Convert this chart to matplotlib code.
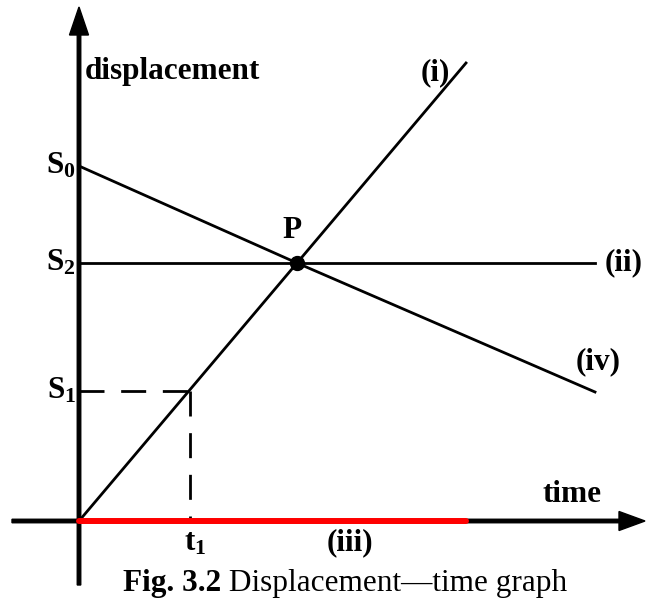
import matplotlib.pyplot as plt

plt.rcParams['font.family'] = ['Liberation Serif', 'DejaVu Serif']
plt.rcParams['mathtext.fontset'] = 'custom'
plt.rcParams['mathtext.rm'] = 'Liberation Serif'
plt.rcParams['mathtext.bf'] = 'Liberation Serif:bold'

# values (arbitrary units)
S0 = 3.55
S2 = 2.58
S1 = 1.30
t1 = 1.11
tP = 2.18
t_end = 5.16          # end of lines (ii) and (iv)
t_i_end = 3.87        # end of line (i)
t_iii_end = 3.87      # end of red line (iii)
s_iv_end = 1.29

line_i_t = [0, tP, t_i_end]
line_i_s = [0, S2, S2 / tP * t_i_end]
line_ii_t = [0, t_end]
line_ii_s = [S2, S2]
line_iii_t = [0, t_iii_end]
line_iii_s = [0, 0]
line_iv_t = [0, tP, t_end]
line_iv_s = [S0, S2, s_iv_end]

fig = plt.figure(figsize=(6.46, 6.02), dpi=100)
ax = fig.add_axes([0, 0, 1, 1])
ax.set_xlim(-0.79, 5.67)
ax.set_ylim(-0.81, 5.21)
ax.axis('off')

# axes with arrows
ax.arrow(-0.67, 0, 6.33, 0, width=0.035, head_width=0.19, head_length=0.26,
         length_includes_head=True, color='black', zorder=2)
ax.arrow(0, -0.64, 0, 5.78, width=0.035, head_width=0.19, head_length=0.28,
         length_includes_head=True, color='black', zorder=2)

lw = 2.0
ax.plot(line_i_t, line_i_s, color='black', lw=lw)
ax.plot(line_ii_t, line_ii_s, color='black', lw=lw)
ax.plot(line_iv_t, line_iv_s, color='black', lw=lw)
ax.plot(line_iii_t, line_iii_s, color='red', lw=4.3, solid_capstyle='round', zorder=3)

# dashed guides for S1, t1
ax.plot([0, t1], [S1, S1], color='black', lw=lw, ls=(0, (9, 6)))
ax.plot([t1, t1], [S1, 0], color='black', lw=lw, ls=(0, (9, 6)))

ax.plot([tP], [S2], 'o', color='black', ms=10, zorder=4)

fs = 22.5
bold = dict(fontsize=fs, fontweight='bold')
ax.text(0.06, 4.50, 'displacement', ha='left', va='center', **bold)
ax.text(3.56, 4.48, '(i)', ha='center', va='center', **bold)
ax.text(-0.03, S0, r'$\mathbf{S_0}$', ha='right', va='center', fontsize=fs)
ax.text(-0.03, S2, r'$\mathbf{S_2}$', ha='right', va='center', fontsize=fs)
ax.text(-0.03, S1, r'$\mathbf{S_1}$', ha='right', va='center', fontsize=fs)
ax.text(2.13, 2.91, 'P', ha='center', va='center', **bold)
ax.text(5.26, S2, '(ii)', ha='left', va='center', **bold)
ax.text(5.19, 1.59, '(iv)', ha='center', va='center', **bold)
ax.text(4.93, 0.26, 'time', ha='center', va='center', **bold)
ax.text(1.16, -0.22, r'$\mathbf{t_1}$', ha='center', va='center', fontsize=fs)
ax.text(2.71, -0.22, '(iii)', ha='center', va='center', **bold)

cap = ax.text(0.44, -0.62, 'Fig. 3.2', ha='left', va='center', **bold)
ax.annotate(' Displacement\u2014time graph', xy=(1, 0), xycoords=cap,
            ha='left', va='bottom', fontsize=fs)

fig.savefig('out.png', dpi=100)
